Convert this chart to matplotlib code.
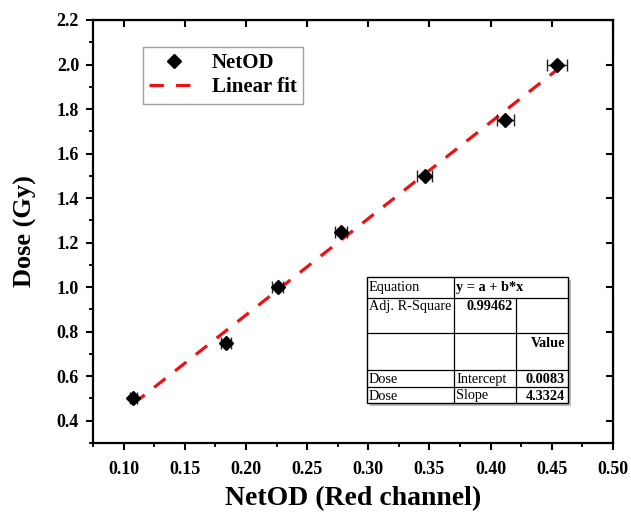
import numpy as np
import matplotlib.pyplot as plt
from matplotlib.ticker import MultipleLocator, FormatStrFormatter

net_od = [0.108, 0.184, 0.226, 0.278, 0.346, 0.412, 0.454]
dose = [0.50, 0.75, 1.00, 1.25, 1.50, 1.75, 2.00]
net_od_err = [0.003, 0.004, 0.0045, 0.005, 0.006, 0.007, 0.008]

# linear fit results shown in the table
intercept = 0.0083
slope = 4.3324
adj_r2 = "0.99462"

table_rows = [
    ["Equation", "y = a + b*x", ""],
    ["Adj. R-Square", adj_r2, ""],
    ["", "", "Value"],
    ["Dose", "Intercept", "0.0083"],
    ["Dose", "Slope", "4.3324"],
]

W, H = 631, 515
fig = plt.figure(figsize=(W / 100, H / 100), dpi=100)
plt.rcParams["font.family"] = ["Liberation Serif", "DejaVu Serif"]

ax = fig.add_axes([93 / W, 1 - 443 / H, 520 / W, 423 / H])

ax.errorbar(net_od, dose, xerr=net_od_err, fmt="none", ecolor="#222222",
            elinewidth=1.0, capsize=4, capthick=1.0, zorder=2)
ax.plot(net_od, dose, "D", color="black", ms=7, label="NetOD", zorder=3)

x_fit = np.array([min(net_od), max(net_od)])
ax.plot(x_fit, intercept + slope * x_fit, color="#ee1111", lw=2.3,
        dashes=(4.5, 3.8), label="Linear fit", zorder=1)

ax.set_xlim(0.075, 0.50)
ax.set_ylim(0.3, 2.2)
ax.xaxis.set_major_locator(MultipleLocator(0.05))
ax.xaxis.set_minor_locator(MultipleLocator(0.025))
ax.yaxis.set_major_locator(MultipleLocator(0.2))
ax.yaxis.set_minor_locator(MultipleLocator(0.1))
ax.xaxis.set_major_formatter(FormatStrFormatter("%.2f"))
ax.yaxis.set_major_formatter(FormatStrFormatter("%.1f"))

for s in ax.spines.values():
    s.set_linewidth(1.6)
ax.tick_params(which="major", direction="out", length=5, width=1.5,
               labelsize=13, pad=5)
ax.tick_params(axis="x", which="major", pad=8)
ax.tick_params(which="minor", direction="out", length=3, width=1.3)
for lab in ax.get_xticklabels() + ax.get_yticklabels():
    lab.set_fontweight("bold")

# mirror ticks on top / right (major only, pointing in)
secx = ax.secondary_xaxis("top")
secx.xaxis.set_major_locator(MultipleLocator(0.05))
secx.tick_params(direction="in", length=5, width=1.5, labeltop=False)
secy = ax.secondary_yaxis("right")
secy.yaxis.set_major_locator(MultipleLocator(0.2))
secy.tick_params(direction="in", length=5, width=1.5, labelright=False)

ax.set_xlabel("NetOD (Red channel)", fontsize=20, fontweight="bold", labelpad=6)
ax.set_ylabel("Dose (Gy)", fontsize=19, fontweight="bold", labelpad=14)

leg = ax.legend(loc="upper left", bbox_to_anchor=(0.096, 0.936),
                borderaxespad=0, fancybox=False, edgecolor="#888888",
                prop={"weight": "bold", "size": 15}, handlelength=2.4,
                borderpad=0.3, labelspacing=0.2, handletextpad=0.6)
leg.get_frame().set_linewidth(1.0)

# fit result table, drawn in pixel coordinates of its own axes
tx0, tx1, ty0, ty1 = 367, 568, 277, 403
tab = fig.add_axes([tx0 / W, 1 - ty1 / H, (tx1 - tx0) / W, (ty1 - ty0) / H])
tab.set_xlim(tx0, tx1)
tab.set_ylim(ty1, ty0)
tab.axis("off")

# drop shadow
tab.add_patch(plt.Rectangle((tx0 + 3, ty0 + 3), tx1 - tx0, ty1 - ty0,
                            facecolor="#bbbbbb", edgecolor="none",
                            clip_on=False, zorder=0))
tab.add_patch(plt.Rectangle((tx0, ty0), tx1 - tx0, ty1 - ty0,
                            facecolor="white", edgecolor="black", lw=1.0,
                            clip_on=False, zorder=1))
row_edges = [277, 298, 333, 370, 387, 403]
text_y = [287, 306, 343, 379, 396]
col_edges = [367, 454, 516, 568]
for yy in row_edges[1:-1]:
    tab.plot([tx0, tx1], [yy, yy], color="black", lw=0.9, zorder=2)
tab.plot([col_edges[1]] * 2, [ty0, ty1], color="black", lw=0.9, zorder=2)
tab.plot([col_edges[2]] * 2, [row_edges[1], ty1], color="black", lw=0.9, zorder=2)

bold_cells = {(0, 1), (1, 1), (2, 2), (3, 2), (4, 2)}
for r, row in enumerate(table_rows):
    yy = text_y[r]
    for c, txt in enumerate(row):
        if not txt:
            continue
        weight = "bold" if (r, c) in bold_cells else "normal"
        if c == 2 or (r == 1 and c == 1):
            xx, ha = col_edges[c + 1] - 3, "right"
        else:
            xx, ha = col_edges[c] + 2, "left"
        tab.text(xx, yy, txt, ha=ha, va="center", fontsize=10.3,
                 fontweight=weight, zorder=3)

fig.savefig("out.png", dpi=100)
